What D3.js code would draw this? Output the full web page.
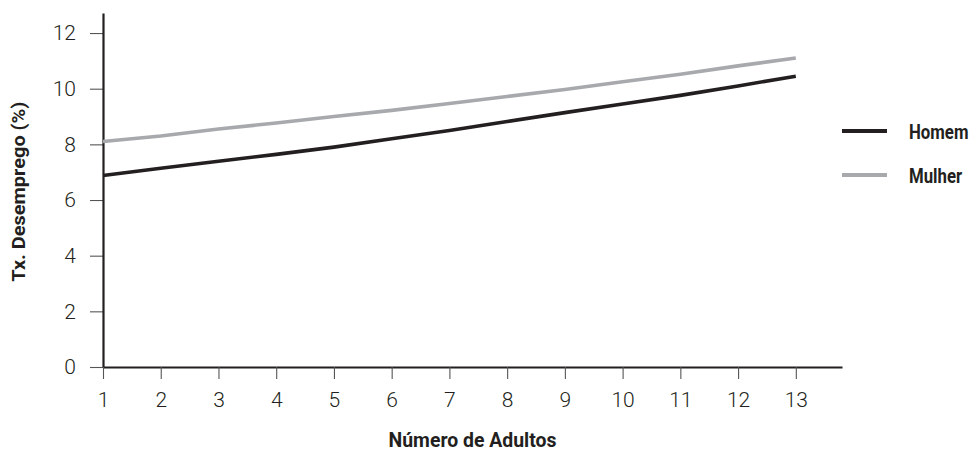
<!DOCTYPE html>
<html>
<head>
<meta charset="utf-8">
<script src="https://cdn.jsdelivr.net/npm/d3@7"></script>
<style>
  html, body { margin: 0; padding: 0; background: #fff; }
  svg { display: block; }
  .tick text { font-family: Roboto, "Noto Sans", sans-serif; font-weight: 300; font-size: 21px; fill: #231f20; }
  .title { font-family: Roboto, "Noto Sans", sans-serif; font-weight: bold; fill: #231f20; }
</style>
</head>
<body>
<svg id="chart" width="974" height="451"></svg>
<script>
// ---- data ----
const adults = [1, 2, 3, 4, 5, 6, 7, 8, 9, 10, 11, 12, 13];
const homem  = [6.88, 7.14, 7.39, 7.64, 7.9, 8.2, 8.5, 8.82, 9.14, 9.45, 9.76, 10.1, 10.45];
const mulher = [8.1, 8.3, 8.55, 8.77, 9.0, 9.22, 9.47, 9.72, 9.97, 10.25, 10.52, 10.82, 11.1];
const yTicks = [0, 2, 4, 6, 8, 10, 12];
const seriesNames = ["Homem", "Mulher"];
const seriesColors = ["#231f20", "#a7a9ac"];
const xTitle = "Número de Adultos";
const yTitle = "Tx. Desemprego (%)";

// ---- layout ----
const svg = d3.select("#chart");
const x = d3.scaleLinear().domain([1, 13.8]).range([103, 842]);
const y = d3.scaleLinear().domain([0, 12.72]).range([367, 13]);

// axes
const yAxis = d3.axisLeft(y).tickValues(yTicks).tickSize(13).tickPadding(14).tickSizeOuter(0);
const xAxis = d3.axisBottom(x).tickValues(adults).tickSize(12).tickPadding(13).tickSizeOuter(0);

const gy = svg.append("g").attr("transform", `translate(${x.range()[0]},0)`).call(yAxis);
const gx = svg.append("g").attr("transform", `translate(0,${y.range()[0]})`).call(xAxis);
[gx, gy].forEach(g => {
  g.select(".domain").attr("stroke", "#231f20").attr("stroke-width", 2.2);
  g.selectAll(".tick line").attr("stroke", "#555").attr("stroke-width", 1.1);
  g.selectAll(".tick text").attr("font-family", null).attr("font-size", null);
});
gy.select(".domain").raise();

// lines
const line = d3.line().x((d, i) => x(adults[i])).y(d => y(d));
[homem, mulher].forEach((s, k) => {
  svg.append("path").datum(s)
    .attr("d", line)
    .attr("fill", "none")
    .attr("stroke", seriesColors[k])
    .attr("stroke-width", 3.6);
});

// axis titles
svg.append("text").attr("class", "title")
  .attr("x", (x.range()[0] + x.range()[1]) / 2).attr("y", 447)
  .attr("text-anchor", "middle").attr("font-size", 20)
  .attr("textLength", 168).attr("lengthAdjust", "spacingAndGlyphs")
  .text(xTitle);
svg.append("text").attr("class", "title")
  .attr("transform", `translate(25,${y(6.3)}) rotate(-90)`)
  .attr("text-anchor", "middle").attr("font-size", 19)
  .attr("textLength", 180).attr("lengthAdjust", "spacingAndGlyphs")
  .text(yTitle);

// legend
const legY = [131, 175];
seriesNames.forEach((name, k) => {
  svg.append("line")
    .attr("x1", 842).attr("x2", 887)
    .attr("y1", legY[k]).attr("y2", legY[k])
    .attr("stroke", seriesColors[k]).attr("stroke-width", 4);
  svg.append("text").attr("class", "title")
    .attr("transform", `translate(909,${legY[k]}) scale(0.8,1)`)
    .attr("dy", "0.36em")
    .attr("font-size", 21)
    .text(name);
});
</script>
</body>
</html>
